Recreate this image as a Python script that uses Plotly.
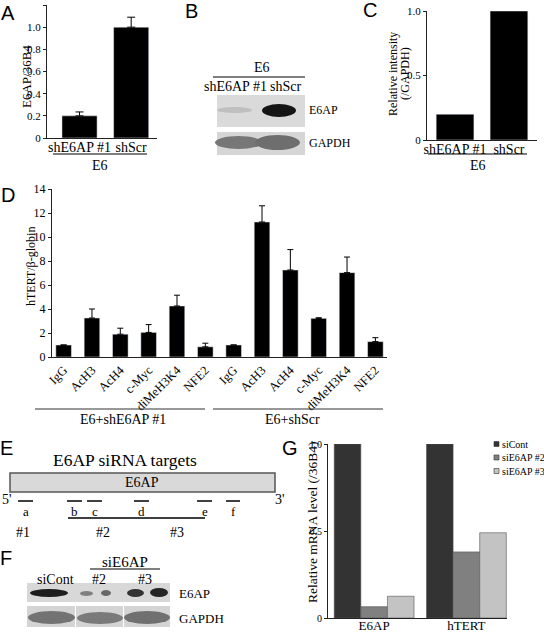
import plotly.graph_objects as go

W, H = 544, 633
SERIF = "Liberation Serif"
SANS = "Liberation Sans"

# ---------------- data ----------------
# Panel A: qRT-PCR E6AP/36B4
a_categories = ["shE6AP #1", "shScr"]
a_values = [0.20, 1.00]
a_err = [0.035, 0.09]
a_yticks = [0, 0.2, 0.4, 0.6, 0.8, 1.0, 1.2]

# Panel C: relative intensity
c_categories = ["shE6AP #1", "shScr"]
c_values = [0.20, 1.00]
c_yticks = [0, 0.5, 1.0]

# Panel D: ChIP hTERT/beta-globin
d_targets = ["IgG", "AcH3", "AcH4", "c-Myc", "diMeH3K4", "NFE2",
             "IgG", "AcH3", "AcH4", "c-Myc", "diMeH3K4", "NFE2"]
d_values = [1.0, 3.25, 1.9, 2.05, 4.25, 0.85, 1.0, 11.25, 7.25, 3.22, 7.03, 1.28]
d_err = [0.0, 0.75, 0.5, 0.65, 0.9, 0.3, 0.0, 1.35, 1.7, 0.05, 1.3, 0.33]
d_groups = ["E6+shE6AP #1", "E6+shScr"]
d_yticks = [0, 2, 4, 6, 8, 10, 12, 14]

# Panel G: relative mRNA level
g_genes = ["E6AP", "hTERT"]
g_series = ["siCont", "siE6AP #2", "siE6AP #3"]
g_siCont = [1.0, 1.0]
g_siE6AP2 = [0.065, 0.38]
g_siE6AP3 = [0.125, 0.49]
g_colors = ["#333333", "#808080", "#c3c3c3"]
g_yticks = [0, 0.5, 1.0]

# Panel E: siRNA target sites
e_sites = ["a", "b", "c", "d", "e", "f"]
e_sirnas = ["#1", "#2", "#3"]


def px(x):
    return x / W


def py(y):
    return 1 - y / H


def fmt(v):
    return "0" if v == 0 else f"{v:.1f}"


fig = go.Figure()

# ---- A ----
fig.add_trace(go.Bar(
    x=a_categories, y=a_values, width=0.68, marker_color="black",
    error_y=dict(type="data", array=a_err, arrayminus=[0] * len(a_err), symmetric=False,
                 color="black", thickness=1, width=4),
    xaxis="x", yaxis="y", showlegend=False))

# ---- C ----
fig.add_trace(go.Bar(
    x=c_categories, y=c_values, width=0.7, marker_color="black",
    xaxis="x2", yaxis="y2", showlegend=False))

# ---- D ----
d_idx = list(range(len(d_targets)))
fig.add_trace(go.Bar(
    x=d_idx, y=d_values, width=0.55, marker_color="black",
    error_y=dict(type="data", array=d_err, arrayminus=[0] * len(d_err), symmetric=False,
                 color="black", thickness=1, width=3),
    xaxis="x3", yaxis="y3", showlegend=False))

# ---- G ----
for name, vals, col in zip(g_series, [g_siCont, g_siE6AP2, g_siE6AP3], g_colors):
    fig.add_trace(go.Bar(
        x=g_genes, y=vals, name=name, marker_color=col,
        marker_line=dict(color="#555555", width=0.6),
        xaxis="x4", yaxis="y4", showlegend=False))

axis_common = dict(showgrid=False, zeroline=False, showline=True, automargin=False,
                   linecolor="#222222", linewidth=1)

fig.update_layout(
    width=W, height=H, autosize=False,
    margin=dict(l=0, r=0, t=0, b=0, pad=0, autoexpand=False),
    paper_bgcolor="white", plot_bgcolor="white",
    barmode="group", bargap=0.135, bargroupgap=0,
    font=dict(family=SERIF, color="black"),
    # A
    xaxis=dict(domain=[px(47), px(157)], anchor="y", type="category", range=[-0.63, 1.5],
               ticks="", ticklabelstandoff=-4, tickfont=dict(size=14, family=SERIF), **axis_common),
    yaxis=dict(domain=[py(138), py(5)], anchor="x", range=[0, 1.2],
               tickvals=a_yticks, ticktext=[fmt(v) for v in a_yticks],
               ticks="outside", ticklen=3, tickcolor="#222222",
               tickfont=dict(size=11, family=SERIF), **axis_common),
    # C
    xaxis2=dict(domain=[px(427), px(537)], anchor="y2", type="category", range=[-0.52, 1.52],
                ticks="", ticklabelstandoff=-4, tickfont=dict(size=14, family=SERIF), **axis_common),
    yaxis2=dict(domain=[py(140), py(11)], anchor="x2", range=[0, 1.0],
                tickvals=c_yticks, ticktext=[fmt(v) for v in c_yticks],
                ticks="outside", ticklen=3, tickcolor="#222222",
                tickfont=dict(size=11, family=SERIF), **axis_common),
    # D
    xaxis3=dict(domain=[px(52), px(387)], anchor="y3", range=[-0.41, 11.41],
                tickvals=d_idx, ticktext=d_targets, tickangle=-45, ticks="",
                tickfont=dict(size=12.5, family=SERIF), **axis_common),
    yaxis3=dict(domain=[py(357), py(189)], anchor="x3", range=[0, 14],
                tickvals=d_yticks, ticks="outside", ticklen=3, tickcolor="#222222",
                tickfont=dict(size=12, family=SERIF), **axis_common),
    # G
    xaxis4=dict(domain=[px(328), px(507)], anchor="y4", type="category", range=[-0.5, 1.44],
                ticks="", ticklabelstandoff=-5, tickfont=dict(size=13, family=SERIF), **axis_common),
    yaxis4=dict(domain=[py(618), py(444)], anchor="x4", range=[0, 1.0],
                tickvals=g_yticks, ticktext=[fmt(v) for v in g_yticks],
                ticks="outside", ticklen=3, tickcolor="#222222",
                tickfont=dict(size=10, family=SERIF), **axis_common),
)

annotations = []
shapes = []


def ann(x, y, text, size=14, family=SERIF, xanchor="center", angle=0, color="black"):
    annotations.append(dict(x=px(x), y=py(y), xref="paper", yref="paper", text=text,
                            showarrow=False, xanchor=xanchor, yanchor="middle",
                            textangle=angle, font=dict(size=size, family=family, color=color)))


def line(x0, y0, x1, y1, color="black", width=1.2):
    shapes.append(dict(type="line", xref="paper", yref="paper", x0=px(x0), y0=py(y0),
                       x1=px(x1), y1=py(y1), line=dict(color=color, width=width)))


def rect(x0, y0, x1, y1, fill, lcolor=None, lwidth=0, layer="above"):
    shapes.append(dict(type="rect", xref="paper", yref="paper", x0=px(x0), y0=py(y1),
                       x1=px(x1), y1=py(y0), fillcolor=fill, layer=layer,
                       line=dict(color=lcolor or fill, width=lwidth)))


def band(x0, y0, x1, y1, fill, opacity=1.0):
    shapes.append(dict(type="circle", xref="paper", yref="paper", x0=px(x0), y0=py(y1),
                       x1=px(x1), y1=py(y0), fillcolor=fill, opacity=opacity,
                       line=dict(width=0)))


# panel letters
for letter, (lx, ly) in zip("ABCDEFG", [(8, 13), (191, 11), (370, 10), (8, 195),
                                         (6, 448), (6, 558), (290, 448)]):
    ann(lx, ly, letter, size=20, family=SANS)

# ---- A annotations ----
ann(26, 77, "E6AP/36B4", size=13, angle=-90)
line(53, 154, 147, 154)
ann(100, 166, "E6", size=14)

# ---- B: western blot ----
ann(262, 67, "E6", size=14)
line(213, 77, 305, 77)
ann(235, 87, "shE6AP #1", size=14)
ann(285, 87, "shScr", size=14)
rect(217, 95, 305, 127, "#dadada")
band(217, 107, 252, 113, "#b8b8b8", 0.8)
band(262, 104, 296, 117, "#151515")
rect(217, 132, 305, 155, "#d6d6d6")
band(215, 136, 262, 149, "#777777")
band(255, 135, 300, 150, "#6e6e6e")
ann(307, 110, "E6AP", size=12, xanchor="left")
ann(307, 143, "GAPDH", size=12, xanchor="left")

# ---- C annotations ----
ann(393, 74, "Relative intensity", size=12, angle=-90)
ann(405, 74, "(/GAPDH)", size=12, angle=-90)
line(428, 154, 527, 154)
ann(478, 166, "E6", size=14)

# ---- D annotations ----
ann(31, 267, "hTERT/β-globin", size=12, angle=-90)
line(35, 409, 205, 409, color="#333333")
line(213, 409, 383, 409, color="#333333")
ann(123, 419, d_groups[0], size=14)
ann(292, 419, d_groups[1], size=14)

# ---- E: schematic ----
ann(125, 460, "E6AP siRNA targets", size=17.5)
rect(10, 473, 275, 492, "#d9d9d9", lcolor="#555555", lwidth=1.5)
ann(142, 482, "E6AP", size=14)
ann(7, 499, "5'", size=14)
ann(280, 499, "3'", size=14)
site_x = [(18, 33), (67, 82), (87, 102), (134, 149), (197, 212), (226, 240)]
for s, (x0, x1) in zip(e_sites, site_x):
    line(x0, 501, x1, 501, width=1.5)
    ann((x0 + x1) / 2, 511, s, size=13)
line(68, 518, 205, 518, width=1.5)
for s, sx in zip(e_sirnas, [23, 103, 177]):
    ann(sx, 532, s, size=14)

# ---- F: western blot ----
ann(125, 562, "siE6AP", size=15)
line(90, 569, 160, 569)
ann(55, 579, "siCont", size=14)
ann(99, 579, "#2", size=14)
ann(145, 579, "#3", size=14)
rect(27, 583, 170, 602, "#d8d8d8")
band(30, 589, 68, 597, "#1e1e1e")
band(80, 591, 93, 596, "#6a6a6a", 0.8)
band(101, 590, 111, 596, "#555555", 0.85)
band(127, 589, 144, 597, "#333333")
band(150, 588, 168, 597, "#262626")
rect(27, 606, 75, 627, "#d4d4d4")
rect(76, 606, 123, 627, "#d4d4d4")
rect(124, 606, 170, 627, "#d4d4d4")
band(28, 611, 75, 624, "#737373")
band(77, 612, 123, 624, "#7a7a7a")
band(124, 611, 170, 624, "#707070")
ann(177, 593, "E6AP", size=13, xanchor="left")
ann(177, 618, "GAPDH", size=13, xanchor="left")

# ---- G annotations ----
ann(312, 522, "Relative mRNA level (/36B4)", size=13.5, angle=-90)
for i, (name, col) in enumerate(zip(g_series, g_colors)):
    yy = 444 + i * 13.5
    rect(494, yy - 2.5, 499, yy + 2.5, col, lcolor="#333333", lwidth=0.6)
    ann(500, yy, name, size=10, xanchor="left")

fig.update_layout(annotations=annotations, shapes=shapes)
fig.write_html("out.html",
               config={"displayModeBar": False},
               post_script="document.body.style.margin='0';document.body.style.overflow='hidden';")
